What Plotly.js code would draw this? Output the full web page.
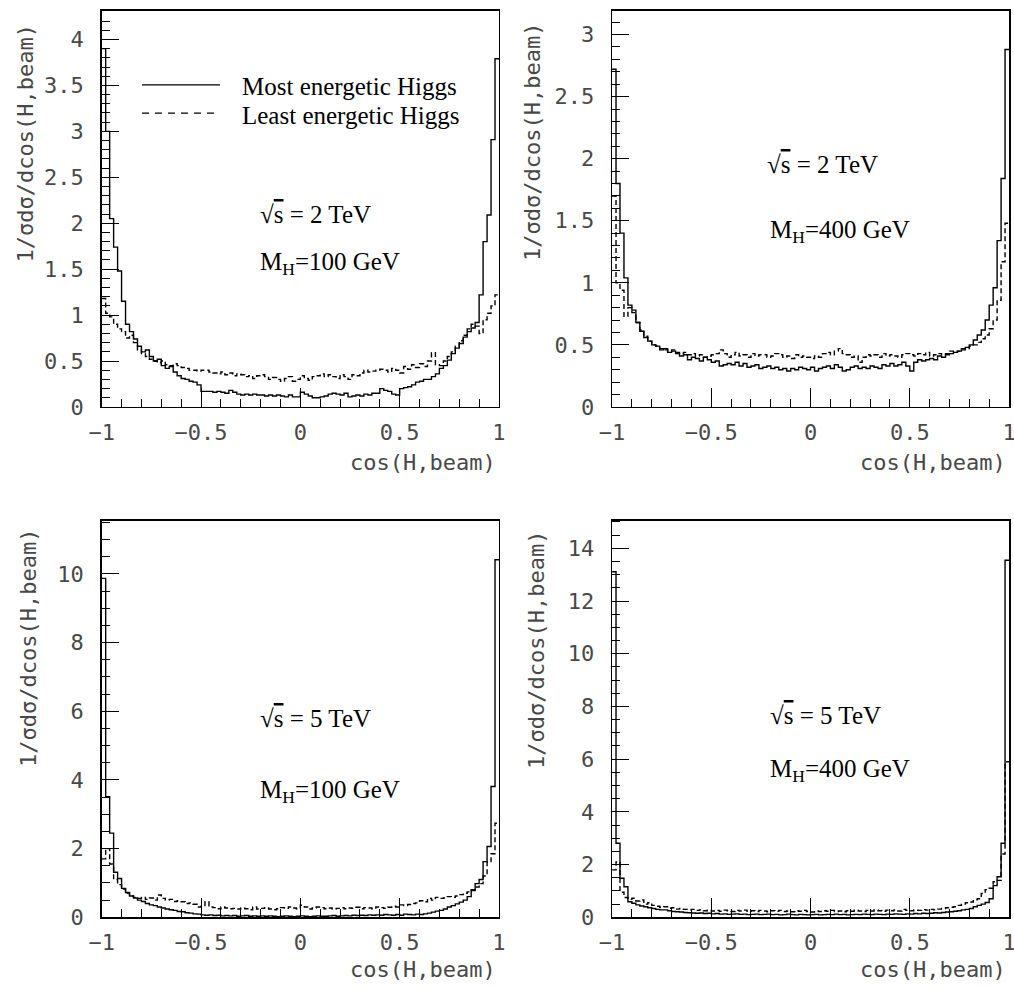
<!DOCTYPE html>
<html><head><meta charset="utf-8">
<script src="https://cdn.plot.ly/plotly-3.0.1.min.js"></script>
<style>html,body{margin:0;padding:0;background:#fff}#chart{width:1014px;height:988px}</style>
</head><body><div id="chart"></div>
<script>
// Histogram binning: 100 bins of cos(H,beam) from -1 to 1
const xMin = -1, xMax = 1, nBins = 100;

// Panel 1: sqrt(s)=2 TeV, MH=100 GeV
const most_2TeV_100 = [3.90,3.00,2.05,1.74,1.48,1.15,0.90,0.82,0.74,0.66,
 0.60,0.62,0.55,0.50,0.52,0.45,0.42,0.44,0.38,0.34,
 0.31,0.30,0.28,0.27,0.24,0.17,0.17,0.17,0.16,0.17,
 0.16,0.15,0.18,0.16,0.14,0.13,0.14,0.13,0.14,0.13,
 0.13,0.12,0.13,0.12,0.13,0.12,0.11,0.13,0.11,0.11,
 0.16,0.14,0.12,0.10,0.10,0.11,0.12,0.14,0.15,0.14,
 0.13,0.15,0.11,0.12,0.13,0.12,0.14,0.13,0.15,0.15,
 0.20,0.18,0.17,0.14,0.13,0.20,0.21,0.22,0.24,0.27,
 0.28,0.30,0.30,0.33,0.36,0.42,0.45,0.51,0.58,0.64,
 0.69,0.76,0.82,0.86,0.92,1.22,1.80,2.09,2.91,3.79];
const least_2TeV_100 = [1.18,1.02,0.98,0.90,0.85,0.82,0.75,0.78,0.70,0.62,
 0.58,0.55,0.52,0.50,0.48,0.50,0.46,0.45,0.47,0.45,
 0.43,0.42,0.40,0.40,0.39,0.40,0.40,0.38,0.37,0.36,
 0.38,0.35,0.37,0.34,0.36,0.35,0.33,0.34,0.31,0.34,
 0.35,0.33,0.30,0.32,0.30,0.28,0.31,0.33,0.28,0.30,
 0.34,0.31,0.29,0.33,0.34,0.36,0.33,0.35,0.33,0.31,
 0.35,0.33,0.30,0.35,0.34,0.37,0.40,0.38,0.39,0.40,
 0.41,0.40,0.38,0.42,0.40,0.37,0.44,0.41,0.46,0.43,
 0.47,0.44,0.50,0.59,0.46,0.45,0.50,0.55,0.60,0.66,
 0.72,0.78,0.85,0.90,0.88,0.80,0.95,1.02,1.10,1.22];

// Panel 2: sqrt(s)=2 TeV, MH=400 GeV
const most_2TeV_400 = [2.72,1.80,1.40,1.04,0.82,0.78,0.68,0.61,0.56,0.53,
 0.50,0.49,0.46,0.47,0.44,0.45,0.43,0.41,0.42,0.38,
 0.40,0.39,0.37,0.40,0.38,0.36,0.37,0.33,0.34,0.35,
 0.34,0.36,0.33,0.35,0.32,0.33,0.34,0.31,0.32,0.33,
 0.31,0.32,0.30,0.31,0.29,0.31,0.30,0.32,0.31,0.30,
 0.32,0.29,0.31,0.32,0.33,0.31,0.34,0.32,0.29,0.30,
 0.32,0.33,0.31,0.32,0.31,0.33,0.32,0.31,0.34,0.33,
 0.35,0.33,0.34,0.36,0.33,0.29,0.36,0.38,0.37,0.38,
 0.39,0.38,0.41,0.40,0.42,0.43,0.44,0.45,0.46,0.48,
 0.50,0.54,0.58,0.62,0.70,0.82,0.96,1.34,1.84,2.88];
const least_2TeV_400 = [1.70,1.00,0.94,0.73,0.80,0.76,0.68,0.62,0.57,0.53,
 0.50,0.49,0.47,0.46,0.45,0.46,0.44,0.43,0.44,0.42,
 0.43,0.41,0.42,0.40,0.41,0.42,0.43,0.46,0.43,0.40,
 0.42,0.44,0.41,0.42,0.40,0.43,0.41,0.42,0.42,0.40,
 0.41,0.43,0.42,0.40,0.41,0.39,0.42,0.40,0.41,0.40,
 0.39,0.41,0.40,0.43,0.44,0.42,0.45,0.47,0.43,0.42,
 0.40,0.41,0.36,0.40,0.42,0.41,0.42,0.40,0.43,0.41,
 0.42,0.41,0.40,0.42,0.43,0.42,0.41,0.43,0.42,0.44,
 0.41,0.42,0.43,0.42,0.43,0.45,0.44,0.45,0.47,0.47,
 0.49,0.50,0.52,0.55,0.58,0.63,0.70,0.86,1.17,1.48];

// Panel 3: sqrt(s)=5 TeV, MH=100 GeV
const most_5TeV_100 = [9.87,3.51,2.45,1.31,1.13,0.84,0.72,0.62,0.56,0.50,
 0.46,0.40,0.36,0.34,0.30,0.27,0.24,0.22,0.20,0.17,
 0.16,0.13,0.12,0.10,0.09,0.07,0.06,0.07,0.05,0.06,
 0.04,0.05,0.04,0.05,0.03,0.04,0.05,0.03,0.04,0.03,
 0.04,0.03,0.04,0.03,0.02,0.03,0.04,0.03,0.02,0.03,
 0.04,0.03,0.02,0.03,0.04,0.03,0.03,0.04,0.05,0.03,
 0.04,0.05,0.04,0.06,0.05,0.06,0.05,0.07,0.06,0.07,
 0.06,0.08,0.07,0.06,0.08,0.06,0.09,0.08,0.07,0.09,
 0.08,0.10,0.12,0.15,0.18,0.20,0.24,0.30,0.34,0.39,
 0.44,0.50,0.60,0.78,0.98,1.10,1.62,2.06,3.81,10.41];
const least_5TeV_100 = [1.70,2.00,1.55,1.10,0.95,0.82,0.70,0.62,0.58,0.55,
 0.58,0.52,0.56,0.50,0.65,0.55,0.50,0.52,0.46,0.48,
 0.45,0.40,0.42,0.38,0.30,0.32,0.45,0.30,0.28,0.25,
 0.30,0.27,0.25,0.26,0.24,0.27,0.25,0.22,0.30,0.24,
 0.26,0.28,0.24,0.22,0.25,0.28,0.26,0.30,0.27,0.25,
 0.35,0.30,0.24,0.27,0.30,0.28,0.25,0.27,0.24,0.26,
 0.28,0.25,0.27,0.26,0.29,0.25,0.28,0.27,0.25,0.30,
 0.28,0.26,0.29,0.32,0.30,0.36,0.34,0.37,0.40,0.42,
 0.48,0.45,0.55,0.50,0.58,0.55,0.56,0.60,0.58,0.62,
 0.66,0.70,0.74,0.80,0.88,0.98,1.20,1.60,1.85,2.74];

// Panel 4: sqrt(s)=5 TeV, MH=400 GeV
const most_5TeV_400 = [13.11,2.81,1.48,1.16,0.59,0.53,0.47,0.43,0.40,0.36,
 0.33,0.30,0.28,0.28,0.25,0.22,0.21,0.20,0.18,0.17,
 0.16,0.15,0.16,0.14,0.15,0.13,0.14,0.12,0.13,0.11,
 0.12,0.13,0.11,0.12,0.10,0.11,0.12,0.10,0.11,0.12,
 0.10,0.11,0.09,0.10,0.12,0.10,0.09,0.11,0.10,0.09,
 0.10,0.11,0.09,0.10,0.11,0.10,0.12,0.10,0.11,0.09,
 0.10,0.11,0.10,0.12,0.11,0.10,0.12,0.11,0.10,0.12,
 0.11,0.13,0.12,0.11,0.13,0.12,0.14,0.13,0.15,0.14,
 0.15,0.17,0.16,0.18,0.20,0.21,0.23,0.25,0.28,0.30,
 0.33,0.40,0.45,0.50,0.56,0.70,1.20,1.54,2.81,13.55];
const least_5TeV_400 = [1.80,2.10,0.95,0.75,0.68,0.72,0.62,0.66,0.50,0.55,
 0.45,0.42,0.38,0.40,0.34,0.36,0.31,0.33,0.30,0.28,
 0.30,0.26,0.28,0.25,0.27,0.24,0.26,0.23,0.27,0.25,
 0.22,0.26,0.24,0.27,0.23,0.25,0.22,0.26,0.24,0.21,
 0.25,0.23,0.26,0.22,0.24,0.21,0.25,0.23,0.26,0.22,
 0.20,0.24,0.22,0.25,0.23,0.26,0.22,0.24,0.21,0.25,
 0.23,0.27,0.24,0.22,0.26,0.24,0.28,0.25,0.23,0.27,
 0.25,0.28,0.24,0.30,0.26,0.25,0.28,0.26,0.29,0.27,
 0.30,0.28,0.31,0.33,0.36,0.38,0.40,0.45,0.50,0.55,
 0.58,0.66,0.70,0.90,1.05,1.10,1.35,1.40,2.40,5.90];

const yMax = [4.31, 3.19, 11.55, 15.05];
const yMajor = [0.5, 0.5, 2, 2];
const yMinor = [0.1, 0.1, 0.5, 0.5];
const panelEnergy = ['2', '2', '5', '5'];
const panelMass = ['100', '400', '100', '400'];
const legendNames = ['Most energetic Higgs', 'Least energetic Higgs'];
const xTitle = 'cos(H,beam)';
const yTitle = '1/σdσ/dcos(H,beam)';

const panels = [
  [most_2TeV_100, least_2TeV_100],
  [most_2TeV_400, least_2TeV_400],
  [most_5TeV_100, least_5TeV_100],
  [most_5TeV_400, least_5TeV_400]
];

const edges = [];
for (let i = 0; i <= nBins; i++) edges.push(+(xMin + (xMax - xMin) * i / nBins).toFixed(4));

const data = [];
panels.forEach((pair, p) => {
  const ax = p === 0 ? '' : String(p + 1);
  pair.forEach((vals, k) => {
    data.push({
      type: 'scatter', mode: 'lines',
      x: edges, y: vals.concat([vals[vals.length - 1]]),
      xaxis: 'x' + ax, yaxis: 'y' + ax,
      name: legendNames[k], showlegend: false,
      line: {shape: 'hv', color: '#000', width: 1.4, dash: k === 0 ? 'solid' : '5px,3px'},
      hoverinfo: 'skip'
    });
  });
});

const tickFont = {family: 'DejaVu Sans Mono', size: 22, color: '#484848'};
const xDom = [[0.1003, 0.4921], [0.6036, 0.9951]];
const yDom = [[0.5881, 0.9889], [0.0716, 0.4730]];

const layout = {
  width: 1014, height: 988,
  margin: {l: 0, r: 0, t: 0, b: 0},
  paper_bgcolor: '#fff', plot_bgcolor: '#fff',
  showlegend: false,
  annotations: [], shapes: []
};

for (let p = 0; p < 4; p++) {
  const ax = p === 0 ? '' : String(p + 1);
  const col = p % 2, row = Math.floor(p / 2);
  layout['xaxis' + ax] = {
    domain: xDom[col], anchor: 'y' + ax, range: [xMin, xMax],
    tickmode: 'linear', tick0: -1, dtick: 0.5,
    ticks: 'inside', ticklen: 19, tickwidth: 1, tickcolor: '#000',
    minor: {dtick: 0.1, tick0: -1, ticks: 'inside', ticklen: 8, tickwidth: 1, tickcolor: '#000', showgrid: false},
    showline: true, linecolor: '#000', linewidth: 1.5, mirror: true,
    showgrid: false, zeroline: false, tickfont: tickFont, ticklabelstandoff: 5,
    ticklabeloverflow: 'allow', fixedrange: true
  };
  layout['yaxis' + ax] = {
    domain: yDom[row], anchor: 'x' + ax, range: [0, yMax[p]],
    tickmode: 'linear', tick0: 0, dtick: yMajor[p],
    ticks: 'inside', ticklen: 17, tickwidth: 1, tickcolor: '#000',
    minor: {dtick: yMinor[p], tick0: 0, ticks: 'inside', ticklen: 8, tickwidth: 1, tickcolor: '#000', showgrid: false},
    showline: true, linecolor: '#000', linewidth: 1.5, mirror: true,
    showgrid: false, zeroline: false, tickfont: tickFont, ticklabelstandoff: 12,
    ticklabeloverflow: 'allow', fixedrange: true
  };
}

const titleFont = {family: 'DejaVu Sans Mono', size: 22, color: '#484848'};
// x-axis titles
[[0.4911, 0.5314], [0.9941, 0.5314], [0.4911, 0.0192], [0.9941, 0.0192]].forEach(([x, y]) => {
  layout.annotations.push({text: xTitle, xref: 'paper', yref: 'paper', x: x, y: y,
    xanchor: 'right', yanchor: 'middle', showarrow: false, font: titleFont});
});
// y-axis titles
[[0.0247, 0.8548], [0.5256, 0.8563], [0.0276, 0.3441], [0.5286, 0.3421]].forEach(([x, y]) => {
  layout.annotations.push({text: yTitle, xref: 'paper', yref: 'paper', x: x, y: y, textangle: -90,
    xanchor: 'center', yanchor: 'middle', showarrow: false, font: titleFont});
});

const serif = {family: 'Liberation Serif', size: 25, color: '#000'};
const labelPos = [
  [[0.2544, 0.7834], [0.2544, 0.7338]],
  [[0.7544, 0.8330], [0.7574, 0.7652]],
  [[0.2544, 0.2723], [0.2544, 0.1984]],
  [[0.7574, 0.2763], [0.7574, 0.2206]]
];
labelPos.forEach((pos, p) => {
  layout.annotations.push({text: '√<span style="text-decoration:overline">s</span> = ' + panelEnergy[p] + ' TeV',
    xref: 'paper', yref: 'paper', x: pos[0][0], y: pos[0][1], xanchor: 'left', yanchor: 'middle', showarrow: false, font: serif});
  layout.annotations.push({text: 'M<sub>H</sub>=' + panelMass[p] + ' GeV',
    xref: 'paper', yref: 'paper', x: pos[1][0], y: pos[1][1], xanchor: 'left', yanchor: 'middle', showarrow: false, font: serif});
});

// legend (panel 1)
const legY = [0.9140, 0.8856];
legendNames.forEach((nm, k) => {
  layout.shapes.push({type: 'line', xref: 'paper', yref: 'paper', x0: 0.1400, x1: 0.2170, y0: legY[k], y1: legY[k],
    line: {color: '#000', width: 1.2, dash: k === 0 ? 'solid' : '7px,6px'}});
  layout.annotations.push({text: nm, xref: 'paper', yref: 'paper', x: 0.2367, y: legY[k] - 0.002,
    xanchor: 'left', yanchor: 'middle', showarrow: false, font: serif});
});

Plotly.newPlot('chart', data, layout, {displayModeBar: false, staticPlot: true});
</script>
</body></html>
